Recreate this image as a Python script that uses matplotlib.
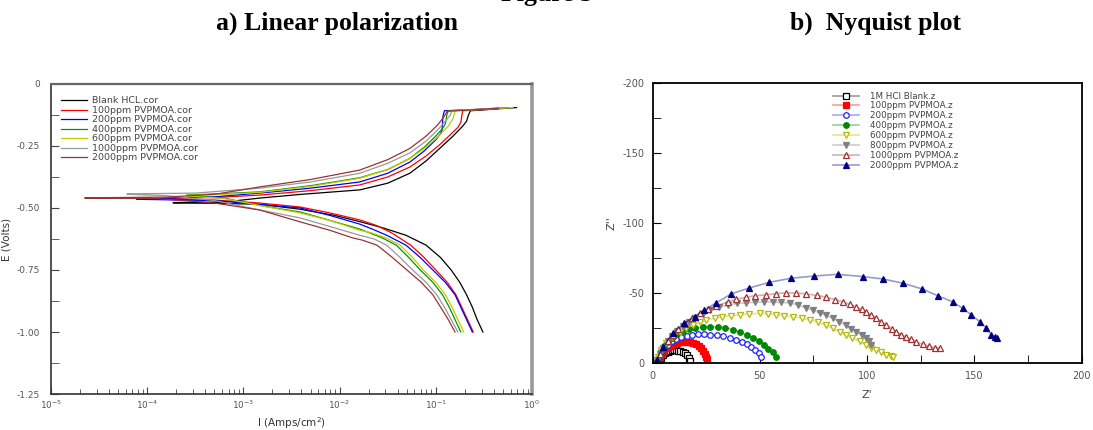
import numpy as np
import matplotlib.pyplot as plt
from matplotlib.ticker import MultipleLocator, FuncFormatter, LogLocator, NullFormatter
from matplotlib.colors import to_rgba

# ---------------- a) linear polarization: log10(I) vs E ----------------
tafel_labels = ['Blank HCL.cor', '100ppm PVPMOA.cor', '200ppm PVPMOA.cor',
                '400ppm PVPMOA.cor', '600ppm PVPMOA.cor', '1000ppm PVPMOA.cor',
                '2000ppm PVPMOA.cor']
tafel_colors = ['black', 'red', 'blue', '#009900', '#c8c800', '#999999', '#993333']

# cathodic branch (from -1.0 V up to Ecorr) followed by anodic branch
blank_logi = [-0.51, -0.57, -0.62, -0.68, -0.75, -0.84, -0.95, -1.10, -1.31, -1.55, -1.79, -2.05, -2.41, -2.83, -3.3, -3.73,
              -3.73, -3.2, -2.83, -2.4, -1.79, -1.5, -1.27, -1.1, -0.96, -0.82, -0.72, -0.68, -0.66, -0.64, -0.45, -0.16]
blank_e = [-1.00, -0.95, -0.90, -0.85, -0.80, -0.75, -0.70, -0.65, -0.61, -0.58, -0.555, -0.53, -0.505, -0.485, -0.481, -0.48,
           -0.478, -0.476, -0.46, -0.445, -0.427, -0.40, -0.36, -0.31, -0.26, -0.21, -0.17, -0.15, -0.125, -0.108, -0.103, -0.095]

p100_logi = [-0.61, -0.67, -0.73, -0.79, -0.88, -1.00, -1.12, -1.26, -1.46, -1.62, -1.79, -2.1, -2.41, -2.83, -3.3, -4.11,
             -4.11, -3.3, -2.83, -2.3, -1.79, -1.5, -1.27, -1.1, -0.96, -0.85, -0.77, -0.74, -0.73, -0.72, -0.5, -0.3]
p100_e = [-1.00, -0.95, -0.90, -0.85, -0.80, -0.75, -0.70, -0.65, -0.60, -0.57, -0.548, -0.52, -0.496, -0.48, -0.468, -0.463,
          -0.462, -0.458, -0.448, -0.43, -0.407, -0.375, -0.335, -0.29, -0.245, -0.205, -0.175, -0.155, -0.13, -0.108, -0.103, -0.097]

p200_logi = [-0.62, -0.68, -0.74, -0.80, -0.90, -1.03, -1.16, -1.31, -1.51, -1.66, -1.79, -2.1, -2.41, -2.83, -3.3, -4.11,
             -4.11, -3.3, -2.83, -2.3, -1.79, -1.5, -1.27, -1.12, -1.0, -0.95, -0.935, -0.925, -0.91, -0.6, -0.25]
p200_e = [-1.00, -0.95, -0.90, -0.85, -0.80, -0.75, -0.70, -0.65, -0.61, -0.585, -0.565, -0.53, -0.50, -0.486, -0.47, -0.465,
          -0.464, -0.455, -0.44, -0.42, -0.395, -0.36, -0.315, -0.27, -0.225, -0.20, -0.185, -0.13, -0.108, -0.103, -0.096]

p400_logi = [-0.74, -0.80, -0.86, -0.93, -1.03, -1.16, -1.28, -1.41, -1.56, -1.69, -1.79, -2.1, -2.41, -2.83, -3.2, -3.59,
             -3.59, -3.1, -2.83, -2.3, -1.79, -1.5, -1.27, -1.12, -1.0, -0.93, -0.90, -0.885, -0.87, -0.5, -0.2]
p400_e = [-1.00, -0.95, -0.90, -0.85, -0.80, -0.75, -0.70, -0.65, -0.62, -0.60, -0.585, -0.55, -0.516, -0.49, -0.46, -0.45,
          -0.448, -0.44, -0.435, -0.41, -0.378, -0.345, -0.30, -0.255, -0.21, -0.18, -0.16, -0.125, -0.108, -0.102, -0.095]

p600_logi = [-0.71, -0.77, -0.83, -0.90, -1.00, -1.13, -1.24, -1.37, -1.52, -1.67, -1.79, -2.1, -2.41, -2.83, -3.2, -3.59,
             -3.59, -3.1, -2.83, -2.3, -1.79, -1.5, -1.27, -1.1, -0.97, -0.87, -0.82, -0.80, -0.5, -0.2]
p600_e = [-1.00, -0.95, -0.90, -0.85, -0.80, -0.75, -0.70, -0.65, -0.62, -0.60, -0.59, -0.55, -0.52, -0.49, -0.462, -0.452,
          -0.45, -0.443, -0.437, -0.413, -0.38, -0.345, -0.30, -0.255, -0.21, -0.17, -0.14, -0.108, -0.102, -0.095]

p1000_logi = [-0.77, -0.84, -0.91, -0.99, -1.10, -1.24, -1.37, -1.51, -1.64, -1.79, -2.1, -2.41, -2.83, -3.3, -3.8, -4.21,
              -4.21, -3.5, -2.83, -2.3, -1.79, -1.5, -1.27, -1.1, -0.98, -0.9, -0.85, -0.83, -0.5, -0.3]
p1000_e = [-1.00, -0.95, -0.90, -0.85, -0.80, -0.75, -0.70, -0.65, -0.625, -0.61, -0.575, -0.54, -0.508, -0.47, -0.45, -0.445,
           -0.443, -0.44, -0.42, -0.395, -0.36, -0.32, -0.278, -0.23, -0.185, -0.15, -0.125, -0.108, -0.10, -0.096]

p2000_logi = [-0.80, -0.87, -0.95, -1.03, -1.15, -1.30, -1.45, -1.61, -1.76, -1.87, -2.1, -2.41, -2.83, -3.3, -3.9, -4.65,
              -4.65, -3.8, -3.3, -2.83, -2.3, -1.79, -1.5, -1.27, -1.1, -0.98, -0.92, -0.88, -0.6, -0.35]
p2000_e = [-1.00, -0.95, -0.90, -0.85, -0.80, -0.75, -0.70, -0.65, -0.63, -0.62, -0.59, -0.556, -0.508, -0.48, -0.462, -0.46,
           -0.459, -0.456, -0.445, -0.415, -0.385, -0.347, -0.305, -0.26, -0.21, -0.165, -0.135, -0.11, -0.104, -0.098]

tafel_logi = [blank_logi, p100_logi, p200_logi, p400_logi, p600_logi, p1000_logi, p2000_logi]
tafel_e = [blank_e, p100_e, p200_e, p400_e, p600_e, p1000_e, p2000_e]

# ---------------- b) Nyquist: Z' vs -Z'' ----------------
nyq_labels = ['1M HCl Blank.z', '100ppm PVPMOA.z', '200ppm PVPMOA.z', '400ppm PVPMOA.z',
              '600ppm PVPMOA.z', '800ppm PVPMOA.z', '1000ppm PVPMOA.z', '2000ppm PVPMOA.z']
nyq_colors = ['black', 'red', '#2020ff', '#008800', '#b8b800', '#808080', '#a03030', '#000080']
nyq_markers = ['s', 's', 'o', 'o', 'v', 'v', '^', '^']
nyq_filled = [False, True, False, True, False, True, False, True]

blank_zr = [3, 4, 5, 6, 7, 8, 9, 10, 11, 12, 13, 14, 15, 16, 17, 17.5]
blank_zi = [1, 3.5, 5.5, 7, 8, 8.5, 9, 9, 9, 8.8, 8.5, 8, 7, 5.5, 3.5, 1.5]
z100_zr = [2.5, 3.5, 4.5, 5.5, 7, 8.5, 10, 11.5, 13, 14.5, 16, 17.5, 19, 20.5, 21.5, 22.5, 23.5, 24.3, 25, 25.5]
z100_zi = [1, 4, 6.5, 8.5, 10.5, 12, 13.5, 14.5, 15, 15.3, 15.3, 15, 14.3, 13.2, 12, 10.5, 8.5, 6.5, 4.5, 2.5]
z200_zr = [2, 3, 4, 5.5, 7, 9, 11, 13.5, 16, 18.5, 21, 24, 27, 30, 33, 36, 39, 41.5, 44, 46, 48, 49.5, 50.7]
z200_zi = [1.5, 4.5, 7.5, 10.5, 13, 15.5, 17, 18.5, 19.5, 20.2, 20.5, 20.5, 20.3, 19.8, 19, 18, 16.7, 15.2, 13.3, 11.5, 9.3, 7, 4.3]
z400_zr = [2, 3, 4, 5.5, 7, 9, 11.5, 14, 17, 20, 23.5, 27, 30.5, 34, 37.5, 41, 44, 47, 49.5, 52, 54, 56, 57.5]
z400_zi = [1.5, 5, 8.5, 12, 15, 18, 20.5, 22.5, 24, 25, 25.7, 25.9, 25.7, 25, 23.8, 22, 20, 17.9, 15.5, 12.9, 10.3, 7.7, 4.5]
z600_zr = [2.4, 4, 6.4, 9, 12.6, 15.5, 18.7, 22, 25, 29, 32.6, 36.5, 40.6, 45, 50, 54, 57.7, 61.5, 65.4,
           69.5, 73.2, 77, 81, 84, 87.2, 90, 93.2, 96.5, 99.6, 102, 104.3, 106.5, 109, 111, 112]
z600_zi = [4.3, 9.5, 14.3, 18.5, 22, 24.8, 27, 29, 30.7, 32, 33, 33.8, 34.3, 35, 35.5, 35, 34.3, 33.7, 33,
           32, 30.7, 29, 27, 24.7, 22, 20, 17.9, 15.4, 12.9, 11, 9.3, 7.5, 5.7, 4.8, 4.3]
z800_zr = [2, 3.5, 5, 7, 9, 11.5, 14, 17, 20, 23.5, 27, 31, 35, 39.5, 43.7, 48, 52, 56, 60, 63.9, 67.8,
           71.6, 75, 77.9, 81, 84, 87, 90, 92.5, 95, 97.5, 99.6, 101, 102]
z800_zi = [2, 6.5, 11, 15.5, 19.5, 23, 26.5, 29.5, 32.3, 35, 37.5, 39.7, 41.3, 42.5, 42.9, 43.3, 43.6, 43.6,
           43.2, 42.9, 41.3, 39.3, 37.5, 35.7, 34, 32, 29.5, 27, 24.5, 22, 20, 17.9, 15.5, 12.9]
z1000_zr = [2, 3.5, 5, 7, 9.5, 12, 15, 18.5, 22, 26, 29.7, 35, 39, 43.7, 48, 53, 57.5, 62, 67, 71.6, 76.5,
            81, 85, 88.6, 92, 95, 97.5, 99.6, 102, 104.3, 106.5, 109, 111.5, 113.6, 116, 118.3, 120.5,
            123, 126, 129, 131.5, 133.8]
z1000_zi = [2, 6.5, 11, 15.5, 20, 24, 28, 32, 35.5, 38.5, 40.5, 43.6, 45.5, 47, 48, 48.6, 49.5, 50, 50,
            49.3, 48.3, 47, 45.3, 43.6, 41.8, 40, 38.2, 36.4, 34.2, 32, 29.5, 27, 24.5, 22, 20.2, 18.6,
            16.8, 15, 13.2, 11.8, 11, 10.7]
z2000_zr = [1.9, 4.7, 9.4, 14.9, 19.6, 24.2, 29.7, 36.7, 45.2, 54.5, 64.6, 75.5, 86.3, 97.9, 107.3,
            116.6, 125.4, 133, 140, 144.6, 148.7, 152.5, 155.6, 158, 159.5, 160.4]
z2000_zi = [2, 11.4, 21.4, 28.6, 33, 37.9, 42.9, 49.3, 53.6, 57.6, 60.5, 62.1, 63.3, 61.7, 60, 57, 53,
            48, 43.6, 39, 34.3, 29.5, 25, 20, 18.5, 17.9]

nyq_zr = [blank_zr, z100_zr, z200_zr, z400_zr, z600_zr, z800_zr, z1000_zr, z2000_zr]
nyq_zi = [blank_zi, z100_zi, z200_zi, z400_zi, z600_zi, z800_zi, z1000_zi, z2000_zi]

fig = plt.figure(figsize=(10.93, 4.30), dpi=100)

# titles (the "Figure 5" line is cut by the top edge, as in the original)
title_font = dict(family='Liberation Serif', weight='bold', fontsize=18.5)
fig.text(0.5, 1.012, 'Figure 5', ha='center', va='center', **title_font)
fig.text(0.308, 0.945, 'a) Linear polarization', ha='center', va='center', **title_font)
fig.text(0.801, 0.945, 'b)  Nyquist plot', ha='center', va='center', **title_font)

tick_col = '#555555'

# ---- left panel ----
ax1 = fig.add_axes([0.0467, 0.0837, 0.440, 0.721])
for li, ev, lab, c in zip(tafel_logi, tafel_e, tafel_labels, tafel_colors):
    ax1.plot(10 ** np.array(li), ev, color=c, lw=0.9, label=lab)
ax1.set_xscale('log')
ax1.set_xlim(1e-5, 1e0)
ax1.set_ylim(-1.25, 0)
ax1.yaxis.set_major_locator(MultipleLocator(0.25))
ax1.yaxis.set_minor_locator(MultipleLocator(0.125))
ax1.yaxis.set_major_formatter(FuncFormatter(lambda v, p: '0' if abs(v) < 1e-9 else '%.2f' % v))
ax1.xaxis.set_minor_locator(LogLocator(base=10, subs=np.arange(2, 10)))
ax1.xaxis.set_minor_formatter(NullFormatter())
ax1.tick_params(axis='both', which='both', direction='in', labelsize=6.5, labelcolor=tick_col,
                color='#444444')
ax1.tick_params(axis='y', which='both', length=6, pad=8)
ax1.tick_params(axis='x', which='major', length=5)
ax1.tick_params(axis='x', which='minor', length=3.5)
for s in ['left', 'bottom']:
    ax1.spines[s].set_color('#333333')
    ax1.spines[s].set_linewidth(1.2)
ax1.spines['top'].set_color('#666666')
ax1.spines['top'].set_linewidth(1.6)
ax1.spines['right'].set_color('#999999')
ax1.spines['right'].set_linewidth(2.6)
ax1.set_ylabel('E (Volts)', fontsize=7.5, color='#333333', labelpad=4)
ax1.set_xlabel('I (Amps/cm$^2$)', fontsize=7.5, color='#333333', labelpad=3)
ax1.legend(loc='upper left', bbox_to_anchor=(0.01, 0.975), frameon=False, fontsize=6.8,
           handlelength=2.8, labelspacing=0.05, borderpad=0, handletextpad=0.5,
           labelcolor='#444444')

# ---- right panel ----
ax2 = fig.add_axes([0.597, 0.156, 0.3925, 0.651])
for zr, zi, lab, c, m, f in zip(nyq_zr, nyq_zi, nyq_labels, nyq_colors, nyq_markers, nyq_filled):
    ax2.plot(zr, zi, color=to_rgba(c, 0.4), lw=1.2, marker=m, markersize=4,
             markerfacecolor=c if f else 'white', markeredgecolor=c, markeredgewidth=0.9,
             label=lab)
ax2.set_xlim(0, 200)
ax2.set_ylim(0, 200)
ax2.xaxis.set_major_locator(MultipleLocator(50))
ax2.xaxis.set_minor_locator(MultipleLocator(25))
ax2.yaxis.set_major_locator(MultipleLocator(50))
ax2.yaxis.set_minor_locator(MultipleLocator(25))
ax2.yaxis.set_major_formatter(FuncFormatter(lambda v, p: '0' if v == 0 else '-%d' % v))
ax2.tick_params(axis='both', which='both', direction='in', labelsize=7, labelcolor=tick_col)
ax2.tick_params(axis='both', which='both', length=6)
ax2.tick_params(axis='x', which='major', pad=6)
ax2.tick_params(axis='y', which='major', pad=6)
for s in ax2.spines.values():
    s.set_linewidth(1.3)
ax2.set_xlabel("Z'", fontsize=8, color='#444444', labelpad=6)
ax2.set_ylabel("Z''", fontsize=8, color='#444444', labelpad=4)
ax2.legend(loc='upper left', bbox_to_anchor=(0.41, 0.985), frameon=False, fontsize=6.3,
           handlelength=3.0, labelspacing=0.1, borderpad=0, handletextpad=1.2,
           labelcolor='#444444', numpoints=1)

plt.savefig('out.png', dpi=100)
